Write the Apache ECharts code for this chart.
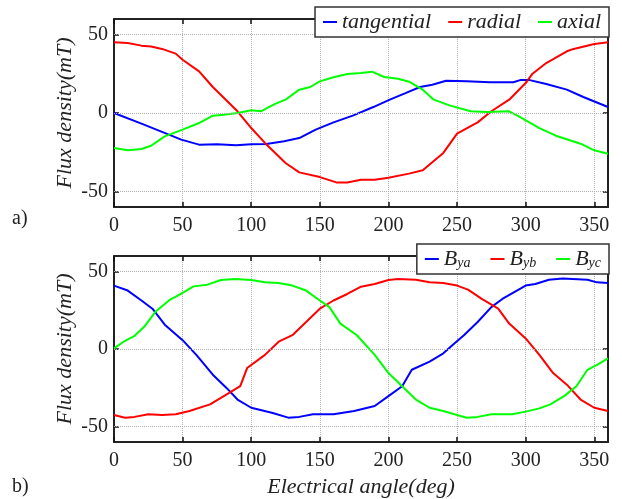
<!DOCTYPE html>
<html><head><meta charset="utf-8">
<script src="https://cdn.jsdelivr.net/npm/echarts@6/dist/echarts.min.js"></script>
<style>html,body{margin:0;padding:0;background:#fff}#c{width:622px;height:499px}</style>
</head><body><div id="c"></div>
<script>
// ---- data (a) ----
const tanX = [0,20,40,49,62,75,89,100,111,124,135,147,160,174,189,201,212,223,232,242,257,274,291,296,303,315,330,342,360];
const tanY = [0,-6.8,-13.8,-17,-20.2,-20,-20.6,-20,-19.8,-18,-16,-10.6,-6,-1.7,3.8,8.5,12.5,16.6,18,20.6,20.2,19.6,19.6,21,21,18.5,14.9,10.2,3.8];
const radX = [0,10,20,27,35,45,50,62,72,90,100,110,125,135,150,162,170,180,190,200,215,225,240,250,265,275,288,300,305,315,330,335,350,360];
const radY = [45.1,44.7,43,42.5,40.9,37.9,34,26.6,16.6,1.1,-9.6,-19.1,-31.9,-37.9,-40.9,-44.3,-44.3,-42.6,-42.6,-41.3,-38.7,-36.6,-25.5,-13.2,-6,1.1,8.5,19.1,25.1,31.9,39.4,40.9,44,45.1];
const axX = [0,10,20,27,37,50,62,72,80,90,100,107,117,125,135,143,150,160,170,180,188,197,207,215,225,233,245,260,272,288,295,310,322,340,350,360];
const axY = [-22.3,-23.8,-23,-20.9,-14.9,-10.6,-6.4,-1.7,-1.1,0,1.7,1.1,5.7,8.5,14.9,16.6,20.2,22.8,24.9,25.5,26.4,23,21.9,20,14.9,8.5,4.7,1.1,0.6,1.1,-2.1,-9.6,-14.5,-19.6,-23.8,-26];
// ---- data (b) ----
const byaX = [0,10,20,28,37,50,60,72,82,90,100,115,127,135,145,160,175,190,200,210,217,230,240,248,255,265,275,283,300,307,317,327,345,352,360];
const byaY = [40.9,37.7,31.3,26,15.7,5.7,-3.8,-16.6,-25.1,-32.6,-37.9,-41.1,-44.3,-43.8,-42.1,-42.1,-40,-36.8,-30.4,-24,-13.4,-8.1,-2.8,3.6,8.9,17.4,27,32.3,40.9,41.9,44.7,45.5,44.7,43,42.6];
const bybX = [0,8,15,25,35,45,55,70,80,92,97,110,120,130,140,150,160,170,180,190,200,207,220,230,240,250,258,268,280,288,300,310,320,330,340,350,360];
const bybY = [-42.6,-44.3,-43.8,-42.1,-42.6,-42.1,-40,-35.7,-30.4,-24,-12.3,-3.8,4.7,8.9,17.4,26,31.3,35.5,40.2,41.9,44.5,45.1,44.7,43,42.6,40.9,38.3,32.3,26,16.4,6.8,-3.8,-15.5,-23,-32.6,-37.9,-40];
const bycX = [0,7,15,22,30,40,50,58,68,78,88,100,110,120,130,140,150,157,165,177,190,200,210,220,230,240,250,257,265,275,290,300,310,318,328,337,345,352,360];
const bycY = [0.4,4.7,8.5,14.3,23.8,31.3,36.2,40.4,41.5,44.5,45.1,44.5,43,42.6,40.9,37.7,31.3,27,16.4,8.9,-3.8,-15.5,-24,-32.6,-37.9,-40,-42.6,-44.3,-43.8,-42.1,-42.1,-40.4,-38.3,-35.7,-30.4,-24,-13.4,-10.2,-6];
const yTicks = [-50,0,50];
const namesA = ['tangential','radial','axial'];
const namesB = ['B_ya','B_yb','B_yc'];
const yTitle = 'Flux density(mT)';
const xTitle = 'Electrical angle(deg)';

const SERIF = 'Liberation Serif';
const zip = (xs, ys) => xs.map((x, i) => [x, ys[i]]);
const colors = ['#0000ff', '#ff0000', '#00ff00'];
const gridLine = {show: true, lineStyle: {color: '#b0b0b0', type: 'dotted', width: 1}};
const axLine = {show: true, onZero: false, lineStyle: {color: '#222', width: 2}};
const tick = {show: true, inside: true, length: 5, lineStyle: {color: '#111', width: 1.5}};

function xAxes(gi, withLabels) {
  return [
    {type: 'value', gridIndex: gi, min: 0, max: 360, interval: 50, position: 'bottom',
     axisLine: axLine, axisTick: tick,
     axisLabel: {show: true, showMaxLabel: false, fontFamily: SERIF, fontSize: 20, color: '#222', margin: 9},
     splitLine: gridLine,
     name: withLabels ? xTitle : '', nameLocation: 'middle', nameGap: 34, nameMoveOverlap: false,
     nameTextStyle: {fontFamily: SERIF, fontStyle: 'italic', fontSize: 22, color: '#222'}},
    {type: 'value', gridIndex: gi, min: 0, max: 360, interval: 50, position: 'top',
     axisLine: axLine, axisTick: tick,
     axisLabel: {show: false}, splitLine: {show: false}}
  ];
}
function yAxes(gi) {
  return [
    {type: 'value', gridIndex: gi, min: -60, max: 60, position: 'left',
     axisLine: axLine, axisTick: Object.assign({}, tick, {customValues: yTicks}),
     axisLabel: {customValues: yTicks, fontFamily: SERIF, fontSize: 20, color: '#222', margin: 6},
     splitLine: {show: false},
     name: yTitle, nameLocation: 'middle', nameGap: 38, nameRotate: 90, nameMoveOverlap: false,
     nameTextStyle: {fontFamily: SERIF, fontStyle: 'italic', fontSize: 22, color: '#222'}},
    {type: 'value', gridIndex: gi, min: -60, max: 60, position: 'right',
     axisLine: axLine, axisTick: Object.assign({}, tick, {customValues: yTicks}),
     axisLabel: {show: false}, splitLine: {show: false}}
  ];
}
function line(name, xs, ys, k, gi) {
  return {
    name: name, type: 'line', xAxisIndex: gi * 2, yAxisIndex: gi * 2,
    data: zip(xs, ys), showSymbol: false, symbol: 'none',
    lineStyle: {color: colors[k], width: 2}, itemStyle: {color: colors[k]},
    animation: false, z: 3
  };
}
function gridMarks(gi) {
  return {
    type: 'line', xAxisIndex: gi * 2, yAxisIndex: gi * 2, data: [], silent: true, animation: false,
    markLine: {symbol: 'none', silent: true, label: {show: false},
      lineStyle: {color: '#b0b0b0', type: 'dotted', width: 1},
      data: yTicks.map(v => ({yAxis: v}))}
  };
}
const legendBase = {
  orient: 'horizontal', right: 13, itemWidth: 14, itemHeight: 2, itemGap: 17, icon: 'rect',
  backgroundColor: '#fff', borderColor: '#333', borderWidth: 1.5, borderRadius: 0,
  padding: [4, 8, 4, 8], z: 10
};
const subFmt = n => { const p = n.split('_'); return '{b|' + p[0] + '}{s|' + p[1] + '}'; };

const chart = echarts.init(document.getElementById('c'), null, {renderer: 'canvas'});
chart.setOption({
  backgroundColor: '#fff',
  animation: false,
  grid: [
    {left: 114, top: 19, width: 494, height: 188, show: false},
    {left: 114, top: 256, width: 494, height: 189, show: false}
  ],
  xAxis: [...xAxes(0, false), ...xAxes(1, true)],
  yAxis: [...yAxes(0), ...yAxes(1)],
  legend: [
    Object.assign({}, legendBase, {top: 7, data: namesA,
      textStyle: {fontFamily: SERIF, fontStyle: 'italic', fontSize: 22, color: '#222'}}),
    Object.assign({}, legendBase, {top: 244, data: namesB, formatter: subFmt, itemGap: 20,
      textStyle: {color: '#222', rich: {
        b: {fontFamily: SERIF, fontStyle: 'italic', fontSize: 22, lineHeight: 22, color: '#222'},
        s: {fontFamily: SERIF, fontStyle: 'italic', fontSize: 14, lineHeight: 12, verticalAlign: 'bottom', color: '#222'}
      }}})
  ],
  graphic: [
    {type: 'text', left: 12, top: 209, style: {text: 'a)', font: '20px "Liberation Serif"', fill: '#222'}},
    {type: 'text', left: 12, top: 477, style: {text: 'b)', font: '20px "Liberation Serif"', fill: '#222'}}
  ],
  series: [
    gridMarks(0), gridMarks(1),
    line(namesA[0], tanX, tanY, 0, 0),
    line(namesA[1], radX, radY, 1, 0),
    line(namesA[2], axX, axY, 2, 0),
    line(namesB[0], byaX, byaY, 0, 1),
    line(namesB[1], bybX, bybY, 1, 1),
    line(namesB[2], bycX, bycY, 2, 1)
  ]
});
</script></body></html>
